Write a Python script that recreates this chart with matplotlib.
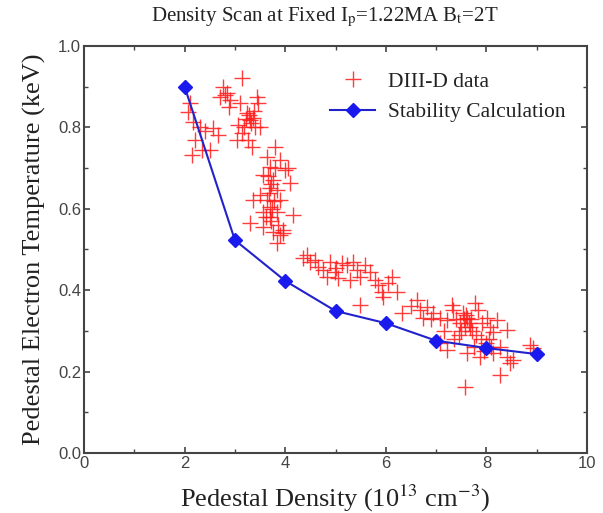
import matplotlib
matplotlib.use("Agg")
import matplotlib.pyplot as plt
from matplotlib.ticker import MultipleLocator

plt.rcParams['font.family'] = ['Liberation Serif', 'DejaVu Serif']
plt.rcParams['mathtext.fontset'] = 'stix'

# DIII-D measured pedestal data
diiid_density = [
    2.07, 2.17, 2.31, 2.56, 2.66, 2.21, 2.35, 2.15, 2.50, 2.10, 2.40,
    3.14, 2.76, 2.84, 2.70, 2.90, 3.44, 3.10, 3.24, 3.30, 3.36, 3.06, 3.14, 3.26, 3.04, 3.34,
    3.28, 3.32, 3.22, 3.38, 3.40, 3.18, 3.46, 3.50, 2.80, 2.88,
    3.80, 3.64, 3.90, 3.70, 4.00, 3.56, 3.76, 4.10, 3.70, 3.84, 3.50, 3.36, 3.64, 3.90,
    3.70, 3.56, 3.84, 4.16, 3.70, 3.30, 3.56, 3.96, 3.76,
    3.72, 3.68, 3.78, 3.74, 3.66, 3.80, 3.72, 3.62, 3.86, 4.06,
    3.90, 3.96, 3.84,
    4.43, 4.59, 4.35, 4.65, 4.89, 4.99, 5.13, 5.23, 5.35, 5.43, 5.49, 5.59, 5.69, 5.79,
    5.85, 5.92, 5.94, 6.04, 6.12, 6.22, 5.49, 6.32, 5.05, 5.29, 4.83, 4.75, 4.50, 5.00,
    6.62, 6.68, 6.82, 6.74, 6.94, 7.08, 7.22, 7.34, 7.32, 7.53, 7.48, 7.61, 7.67, 7.77,
    7.83, 7.91, 8.01, 8.07, 8.13, 8.21, 8.41, 7.22, 7.08, 7.61, 7.87, 8.13, 8.27, 8.41,
    8.53, 8.47, 8.27, 7.57, 8.87, 8.93,
    7.55, 7.60, 7.65, 7.70, 7.58, 7.72, 7.50, 7.40, 7.45, 7.80, 7.35, 7.90, 8.00, 8.10,
    8.05, 7.75, 7.95, 6.50, 6.90, 7.15,
]
diiid_temp = [
    0.838, 0.813, 0.801, 0.799, 0.781, 0.769, 0.744, 0.732, 0.744, 0.860, 0.790,
    0.921, 0.899, 0.885, 0.875, 0.867, 0.875, 0.860, 0.835, 0.818, 0.823, 0.806, 0.786, 0.769, 0.769, 0.752,
    0.830, 0.810, 0.820, 0.840, 0.800, 0.800, 0.860, 0.800, 0.880, 0.850,
    0.752, 0.727, 0.720, 0.703, 0.695, 0.683, 0.671, 0.663, 0.651, 0.646, 0.634, 0.622, 0.622, 0.622,
    0.604, 0.592, 0.592, 0.585, 0.580, 0.565, 0.555, 0.548, 0.543,
    0.660, 0.640, 0.620, 0.600, 0.680, 0.700, 0.570, 0.580, 0.560, 0.700,
    0.536, 0.540, 0.516,
    0.486, 0.474, 0.479, 0.457, 0.469, 0.445, 0.467, 0.462, 0.469, 0.450, 0.432, 0.462, 0.445, 0.425,
    0.413, 0.396, 0.383, 0.418, 0.432, 0.396, 0.364, 0.344, 0.430, 0.425, 0.432, 0.450, 0.470, 0.455,
    0.376, 0.351, 0.359, 0.332, 0.344, 0.332, 0.327, 0.351, 0.364, 0.344, 0.319, 0.332, 0.310, 0.369,
    0.351, 0.319, 0.332, 0.310, 0.297, 0.327, 0.302, 0.253, 0.270, 0.246, 0.236, 0.246, 0.260, 0.236,
    0.228, 0.221, 0.192, 0.162, 0.265, 0.258,
    0.330, 0.340, 0.320, 0.330, 0.310, 0.300, 0.300, 0.330, 0.290, 0.290, 0.280, 0.280, 0.270, 0.260,
    0.280, 0.260, 0.250, 0.360, 0.330, 0.300,
]

# Stability calculation
calc_density = [2, 3, 4, 5, 6, 7, 8, 9]
calc_temp = [0.90, 0.523, 0.423, 0.349, 0.319, 0.276, 0.258, 0.243]

xticks = [0, 2, 4, 6, 8, 10]
yticks = [0.0, 0.2, 0.4, 0.6, 0.8, 1.0]

fig = plt.figure(figsize=(6.03, 5.13), dpi=100)
ax = fig.add_axes([84/603, 1 - 453/513, (587-84)/603, (453-46)/513])

ax.plot(diiid_density, diiid_temp, linestyle='none', marker='+', color='#ff1a1a',
        markersize=11, markeredgewidth=1.0, alpha=0.85, label='DIII-D data')
ax.plot(calc_density, calc_temp, color='#2222cc', linewidth=1.5, marker='D',
        markersize=7.5, markerfacecolor='#1a1aee', markeredgecolor='#1a1aee',
        label='Stability Calculation')

ax.set_xlim(0, 10)
ax.set_ylim(0, 1.0)
ax.set_xticks(xticks)
ax.set_yticks(yticks)
ax.set_xticklabels([str(v) for v in xticks], family='Liberation Sans', color='#444444', fontsize=12)
ax.set_yticklabels([f"{v:.1f}" for v in yticks], family='Liberation Sans', color='#444444', fontsize=12)
ax.xaxis.set_minor_locator(MultipleLocator(1))
ax.yaxis.set_minor_locator(MultipleLocator(0.1))
ax.tick_params(which='both', direction='in', top=True, right=True, color='#444444')
ax.tick_params(which='major', length=4, width=1.2, pad=2)
ax.tick_params(which='minor', length=3, width=1.0)
for s in ax.spines.values():
    s.set_color('#444444')
    s.set_linewidth(1.5)

ax.set_xlabel('Pedestal Density (10$^{13}$ cm$^{-3}$)', fontsize=19, color='#222222', labelpad=9)
ax.set_ylabel('Pedestal Electron Temperature (keV)', fontsize=19, color='#222222', labelpad=9)

fig.text(325/603, 1 - 17/513, 'Density Scan at Fixed I$_\\mathrm{p}$=1.22MA B$_\\mathrm{t}$=2T',
         ha='center', va='center', fontsize=15, color='#222222')

leg = ax.legend(loc='upper left', bbox_to_anchor=(0.451, 0.985), frameon=False,
                fontsize=15.5, handlelength=2.1, handletextpad=0.6, labelspacing=0.5)
for t in leg.get_texts():
    t.set_color('#222222')

fig.savefig('out.png', dpi=100)
